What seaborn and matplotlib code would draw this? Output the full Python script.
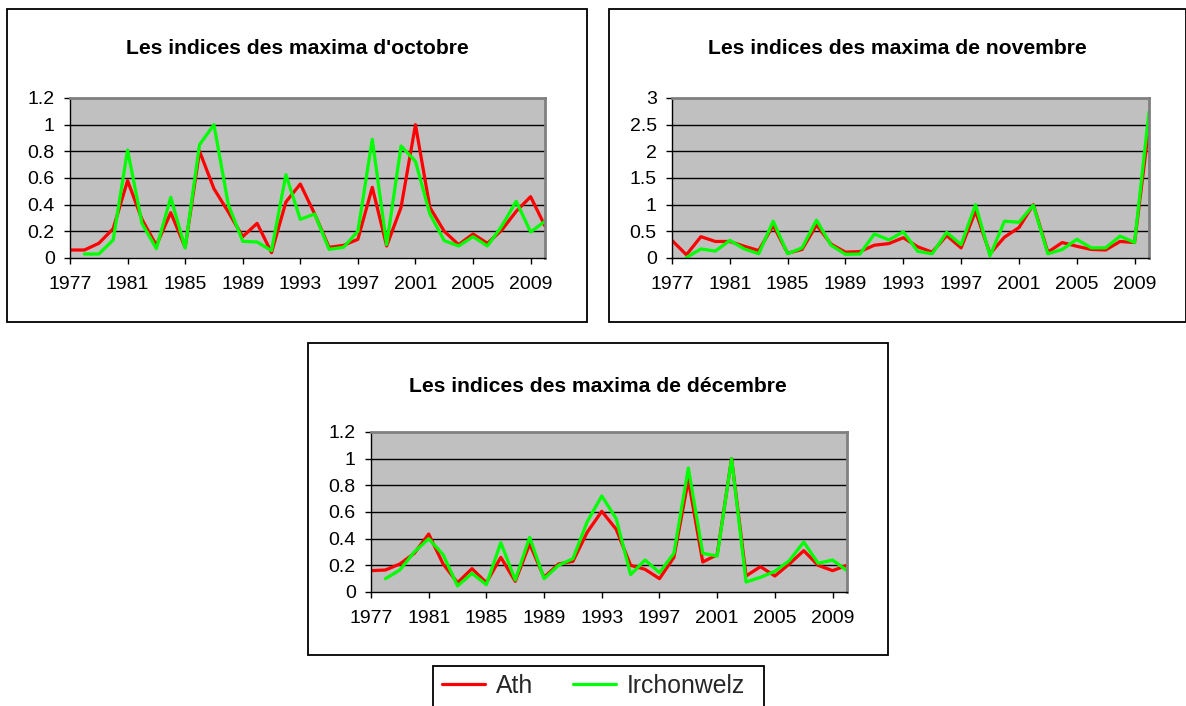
import numpy as np
import pandas as pd
import matplotlib
matplotlib.use('Agg')
import matplotlib.pyplot as plt
from matplotlib.patches import Rectangle
import seaborn as sns

# data (Irchonwelz has no 1977 value)
years = list(range(1977, 2011))

oct_ath = [0.06, 0.06, 0.11, 0.22, 0.58, 0.29, 0.095, 0.34, 0.08, 0.80, 0.52, 0.345,
           0.16, 0.26, 0.04, 0.42, 0.555, 0.33, 0.08, 0.095, 0.14, 0.53, 0.09, 0.38,
           1.0, 0.38, 0.2, 0.10, 0.18, 0.11, 0.21, 0.35, 0.46, 0.24]
oct_irch = [np.nan, 0.03, 0.03, 0.135, 0.81, 0.26, 0.07, 0.455, 0.075, 0.85, 1.0, 0.40,
            0.125, 0.12, 0.055, 0.625, 0.29, 0.33, 0.065, 0.08, 0.20, 0.89, 0.10, 0.84,
            0.725, 0.33, 0.13, 0.09, 0.16, 0.09, 0.24, 0.425, 0.195, 0.275]

nov_ath = [0.33, 0.06, 0.40, 0.31, 0.31, 0.22, 0.14, 0.61, 0.09, 0.16, 0.62, 0.26,
           0.11, 0.12, 0.24, 0.27, 0.38, 0.21, 0.11, 0.42, 0.19, 0.875, 0.08, 0.39,
           0.57, 1.0, 0.11, 0.29, 0.22, 0.16, 0.15, 0.31, 0.29, 2.47]
nov_irch = [np.nan, 0.01, 0.17, 0.13, 0.33, 0.17, 0.08, 0.69, 0.08, 0.19, 0.71, 0.24,
            0.07, 0.075, 0.45, 0.34, 0.49, 0.125, 0.08, 0.48, 0.25, 1.0, 0.04, 0.69,
            0.67, 0.99, 0.08, 0.16, 0.35, 0.19, 0.19, 0.41, 0.29, 2.74]

dec_ath = [0.16, 0.165, 0.21, 0.29, 0.435, 0.21, 0.07, 0.175, 0.07, 0.26, 0.08, 0.36,
           0.11, 0.21, 0.23, 0.45, 0.605, 0.47, 0.20, 0.17, 0.10, 0.26, 0.84, 0.225,
           0.28, 1.0, 0.12, 0.19, 0.12, 0.21, 0.31, 0.20, 0.16, 0.20]
dec_irch = [np.nan, 0.10, 0.165, 0.30, 0.40, 0.28, 0.045, 0.14, 0.055, 0.37, 0.09, 0.41,
            0.10, 0.20, 0.25, 0.53, 0.72, 0.55, 0.13, 0.24, 0.145, 0.29, 0.93, 0.29,
            0.27, 1.0, 0.075, 0.11, 0.155, 0.235, 0.375, 0.215, 0.24, 0.16]

stations = ['Ath', 'Irchonwelz']
titles = ["Les indices des maxima d'octobre",
          "Les indices des maxima de novembre",
          "Les indices des maxima de décembre"]
yticks_small = [0, 0.2, 0.4, 0.6, 0.8, 1, 1.2]
yticks_nov = [0, 0.5, 1, 1.5, 2, 2.5, 3]
xticks = list(range(1977, 2010, 4))

sns.set_style('white')
plt.rcParams['font.family'] = ['Liberation Sans', 'DejaVu Sans']

W, H = 1186, 706
fig = plt.figure(figsize=(W / 100, H / 100), dpi=100)

def px_box(l, t, r, b):
    return [l / W, 1 - b / H, (r - l) / W, (b - t) / H]

def frame(l, t, r, b):
    fig.patches.append(Rectangle((l / W, 1 - b / H), (r - l) / W, (b - t) / H,
                                 transform=fig.transFigure, fill=False,
                                 edgecolor='black', linewidth=1.3))

# panel frames, title positions, plot areas (pixels)
panels = [
    dict(frame=(7, 9, 587, 322), area=(70, 98, 545, 258), ty=49,
         ath=oct_ath, irch=oct_irch, yt=yticks_small, title=titles[0]),
    dict(frame=(609, 9, 1186, 322), area=(672, 98, 1149, 258), ty=49,
         ath=nov_ath, irch=nov_irch, yt=yticks_nov, title=titles[1]),
    dict(frame=(308, 343, 888, 655), area=(371, 432, 847, 592), ty=386,
         ath=dec_ath, irch=dec_irch, yt=yticks_small, title=titles[2]),
]

palette = {'Ath': '#ff0000', 'Irchonwelz': '#00ff00'}
handles = None

for p in panels:
    l, t, r, b = p['frame']
    frame(l, t, r, b)
    fig.text((l + r) / 2 / W, 1 - p['ty'] / H, p['title'], ha='center', va='center',
             fontsize=15.2, fontweight='bold', color='black')

    df = pd.DataFrame({'year': years * 2,
                       'value': p['ath'] + p['irch'],
                       'station': ['Ath'] * len(years) + ['Irchonwelz'] * len(years)})

    ax = fig.add_axes(px_box(*p['area']))
    ax.set_facecolor('#c0c0c0')
    sns.lineplot(data=df, x='year', y='value', hue='station', hue_order=stations,
                 palette=palette, linewidth=2.3, ax=ax)
    if handles is None:
        handles, labels = ax.get_legend_handles_labels()
    ax.get_legend().remove()

    ax.set_xlim(1977, 2010)
    ax.set_ylim(p['yt'][0], p['yt'][-1])
    ax.set_xticks(xticks)
    ax.set_yticks(p['yt'])
    ax.set_yticklabels([f'{v:g}' for v in p['yt']])
    ax.set_xlabel('')
    ax.set_ylabel('')
    for v in p['yt'][1:-1]:
        ax.axhline(v, color='black', linewidth=1.0, zorder=0.5)
    for s in ['top', 'right']:
        ax.spines[s].set_color('#808080')
        ax.spines[s].set_linewidth(2)
    for s in ['left', 'bottom']:
        ax.spines[s].set_color('black')
        ax.spines[s].set_linewidth(1)
    ax.tick_params(axis='both', direction='out', length=4.5, width=1,
                   color='black', labelsize=14, labelcolor='black',
                   bottom=True, left=True)
    ax.tick_params(axis='x', pad=8.5)
    ax.tick_params(axis='y', pad=6.5)

# legend box runs past the bottom edge like in the original
frame(433, 666, 764, 720)
leg = fig.legend(handles, labels, loc='upper left', bbox_to_anchor=(437 / W, 1 - 669 / H),
                 ncol=2, fontsize=17.8, frameon=False,
                 handlelength=1.75, handletextpad=0.42, columnspacing=1.62,
                 borderpad=0.2, borderaxespad=0)
for h in leg.get_lines():
    h.set_linewidth(2.3)

fig.savefig('out.png', dpi=100)
